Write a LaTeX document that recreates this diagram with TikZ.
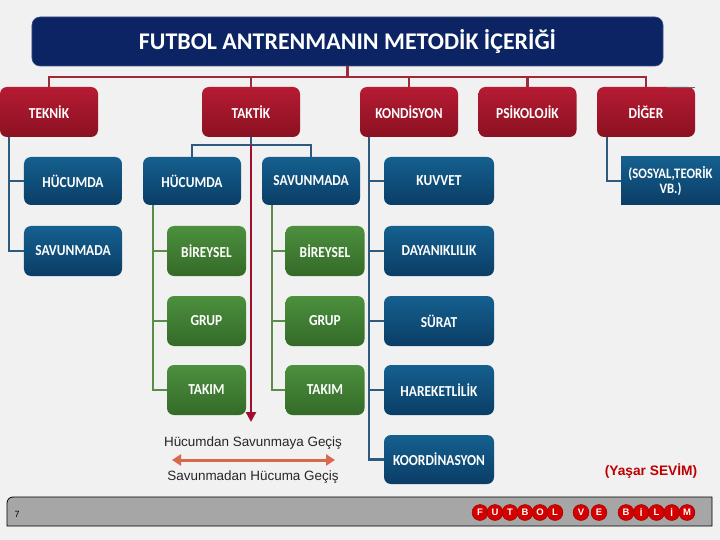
\documentclass[tikz,border=0pt]{standalone}
\usepackage{fontspec}
\setmainfont{Carlito}
\newfontfamily\boxfont[FakeStretch=0.88]{Carlito}
\newfontfamily\arialf{Liberation Sans}
\usetikzlibrary{arrows.meta}
\definecolor{bgc}{HTML}{F1F1F1}
\definecolor{titlec}{HTML}{0C2463}
\definecolor{redtop}{HTML}{B61B33}
\definecolor{redbot}{HTML}{8A1121}
\definecolor{bluetop}{HTML}{15608F}
\definecolor{bluebot}{HTML}{0A3D66}
\definecolor{greentop}{HTML}{4C903E}
\definecolor{greenbot}{HTML}{346A28}
\definecolor{redline}{HTML}{9E2B3C}
\definecolor{blueline}{HTML}{2D5A7E}
\definecolor{greenline}{HTML}{5B8C4B}
\definecolor{arrowred}{HTML}{A0102E}
\definecolor{orangec}{HTML}{D9694A}
\definecolor{logored}{HTML}{D40000}
\tikzset{
  x=1bp, y=-1bp,
  boxbase/.style={rounded corners=7bp, inner sep=0pt, text=white, align=center,
    font=\boxfont\fontsize{15.3}{15}\selectfont\bfseries},
  redbox/.style={boxbase, top color=redtop, bottom color=redbot, minimum width=98bp, minimum height=50bp},
  bluebox/.style={boxbase, top color=bluetop, bottom color=bluebot, minimum width=98bp, minimum height=50bp},
  greenbox/.style={boxbase, top color=greentop, bottom color=greenbot, minimum width=79bp, minimum height=50bp},
  kbox/.style={bluebox, minimum width=110bp},
  redcon/.style={draw=redline, line width=2.6bp},
  bluecon/.style={draw=blueline, line width=2.6bp},
  greencon/.style={draw=greenline, line width=2.6bp},
  logoball/.style={circle, fill=logored, draw=logored!70!black, line width=0.4bp, minimum size=16bp, inner sep=0pt,
    text=white, font=\arialf\fontsize{9.5}{9.5}\selectfont\bfseries},
  lbl/.style={font=\arialf\fontsize{13.5}{15}\selectfont, text=black!85},
}
\begin{document}
\begin{tikzpicture}
\useasboundingbox (0,0) rectangle (720,540);
\fill[bgc] (0,0) rectangle (720,540);

% title
\node[rounded corners=8bp, fill=titlec, draw=titlec!80!white, line width=0.6bp, minimum width=631bp, minimum height=49bp,
  text=white, font=\fontsize{24}{26}\selectfont\bfseries, inner sep=0pt] (title) at (347.5,41.5) {FUTBOL ANTRENMANIN METODİK İÇERİĞİ};

% main categories
\node[redbox] (teknik) at (49,112) {TEKNİK};
\node[redbox] (taktik) at (251,112) {TAKTİK};
\node[redbox] (kond) at (409,112) {KONDİSYON};
\node[redbox] (psiko) at (527.5,112) {PSİKOLOJİK};
\node[redbox] (diger) at (646,112) {DİĞER};
\draw[draw=black!60, line width=0.8bp] (667,87) -- (695,87);

% red tree
\coordinate (rb) at (347.5,77);
\draw[redcon] (title.south) -- (rb);
\draw[redcon] (teknik.north) -- (teknik.north |- rb) -- (diger.north |- rb) -- (diger.north);
\draw[redcon] (taktik.north) -- (taktik.north |- rb);
\draw[redcon] (kond.north) -- (kond.north |- rb);
\draw[redcon] (psiko.north) -- (psiko.north |- rb);

% teknik
\node[bluebox, minimum height=48bp] (tek1) at (73,181) {HÜCUMDA};
\node[bluebox] (tek2) at (73,251) {SAVUNMADA};
\coordinate (tekx) at ([xshift=9bp]teknik.south west);
\draw[bluecon] (tekx) |- (tek2.west);
\draw[bluecon] (tek1.west) -- (tek1.west -| tekx);

% taktik
\node[bluebox, minimum height=48bp] (tak1) at (192,181) {HÜCUMDA};
\node[bluebox, minimum height=48bp] (tak2) at (311,181) {SAVUNMADA};
\coordinate (tj) at (251,145);
\draw[bluecon] (taktik.south) -- (tj);
\draw[bluecon] (tak1.north) |- (tj) -| (tak2.north);

\node[greenbox] (b1) at (206.5,251) {BİREYSEL};
\node[greenbox] (g1) at (206.5,321) {GRUP};
\node[greenbox] (t1) at (206.5,390) {TAKIM};
\node[greenbox] (b2) at (325,251) {BİREYSEL};
\node[greenbox] (g2) at (325,321) {GRUP};
\node[greenbox] (t2) at (325,390) {TAKIM};
\coordinate (gx1) at ([xshift=10bp]tak1.south west);
\coordinate (gx2) at ([xshift=10bp]tak2.south west);
\draw[greencon] (gx1) |- (t1.west);
\draw[greencon] (b1.west) -- (b1.west -| gx1);
\draw[greencon] (g1.west) -- (g1.west -| gx1);
\draw[greencon] (gx2) |- (t2.west);
\draw[greencon] (b2.west) -- (b2.west -| gx2);
\draw[greencon] (g2.west) -- (g2.west -| gx2);

% kondisyon
\node[kbox, minimum height=48bp] (kuv) at (439,181) {KUVVET};
\node[kbox] (day) at (439,251) {DAYANIKLILIK};
\node[kbox] (sur) at (439,321) {SÜRAT};
\node[kbox] (har) at (439,390) {HAREKETLİLİK};
\node[kbox, minimum height=49bp] (koo) at (439,459.5) {KOORDİNASYON};
\coordinate (kx) at ([xshift=9bp]kond.south west);
\draw[bluecon] (kx) |- (koo.west);
\draw[bluecon] (kuv.west) -- (kuv.west -| kx);
\draw[bluecon] (day.west) -- (day.west -| kx);
\draw[bluecon] (sur.west) -- (sur.west -| kx);
\draw[bluecon] (har.west) -- (har.west -| kx);

% diger
\node[boxbase, rounded corners=0pt, top color=bluetop, bottom color=bluebot, minimum width=99bp, minimum height=48bp,
  font=\boxfont\fontsize{14.5}{15}\selectfont\bfseries] (sos) at (670.5,181) {(SOSYAL,TEORİK\\VB.)};
\coordinate (dx) at ([xshift=10bp]diger.south west);
\draw[bluecon] (dx) |- (sos.west);

% transition arrows
\coordinate (arrend) at (251,422);
\draw[draw=arrowred, line width=2.6bp, -{Triangle[length=10bp,width=10bp]}] (tj) -- (arrend);
\node[lbl] (l1) at (253,443) {Hücumdan Savunmaya Geçiş};
\node[lbl] (l2) at (253,477) {Savunmadan Hücuma Geçiş};
\coordinate (oa) at (172,460);
\coordinate (ob) at (335,460);
\draw[draw=orangec, line width=3bp, {Triangle[length=9bp,width=11bp]}-{Triangle[length=9bp,width=11bp]}] (oa) -- (ob);

\node[font=\arialf\fontsize{13.8}{15}\selectfont\bfseries, text=logored!90!black] (author) at (651,471) {(Yaşar SEVİM)};

% footer bar
\draw[fill=black!35, draw=black, line width=0.8bp] (712,526) -- (7,526) [rounded corners=6bp] -- (7,497) [sharp corners] -- (712,497) -- cycle;
\node[font=\arialf\fontsize{9}{9}\selectfont, text=black] (pg) at (17,514) {7};

\foreach \l [count=\i] in {F,U,T,B,O,L} {
  \node[logoball] (f\i) at ({480+15*(\i-1)},512.5) {\l};
}
\node[logoball] (v1) at (581,512.5) {V};
\node[logoball] (v2) at (599,512.5) {E};
\foreach \l [count=\i] in {B,İ,L,İ,M} {
  \node[logoball] (bb\i) at ({626+15.25*(\i-1)},512.5) {\l};
}
\end{tikzpicture}
\end{document}
